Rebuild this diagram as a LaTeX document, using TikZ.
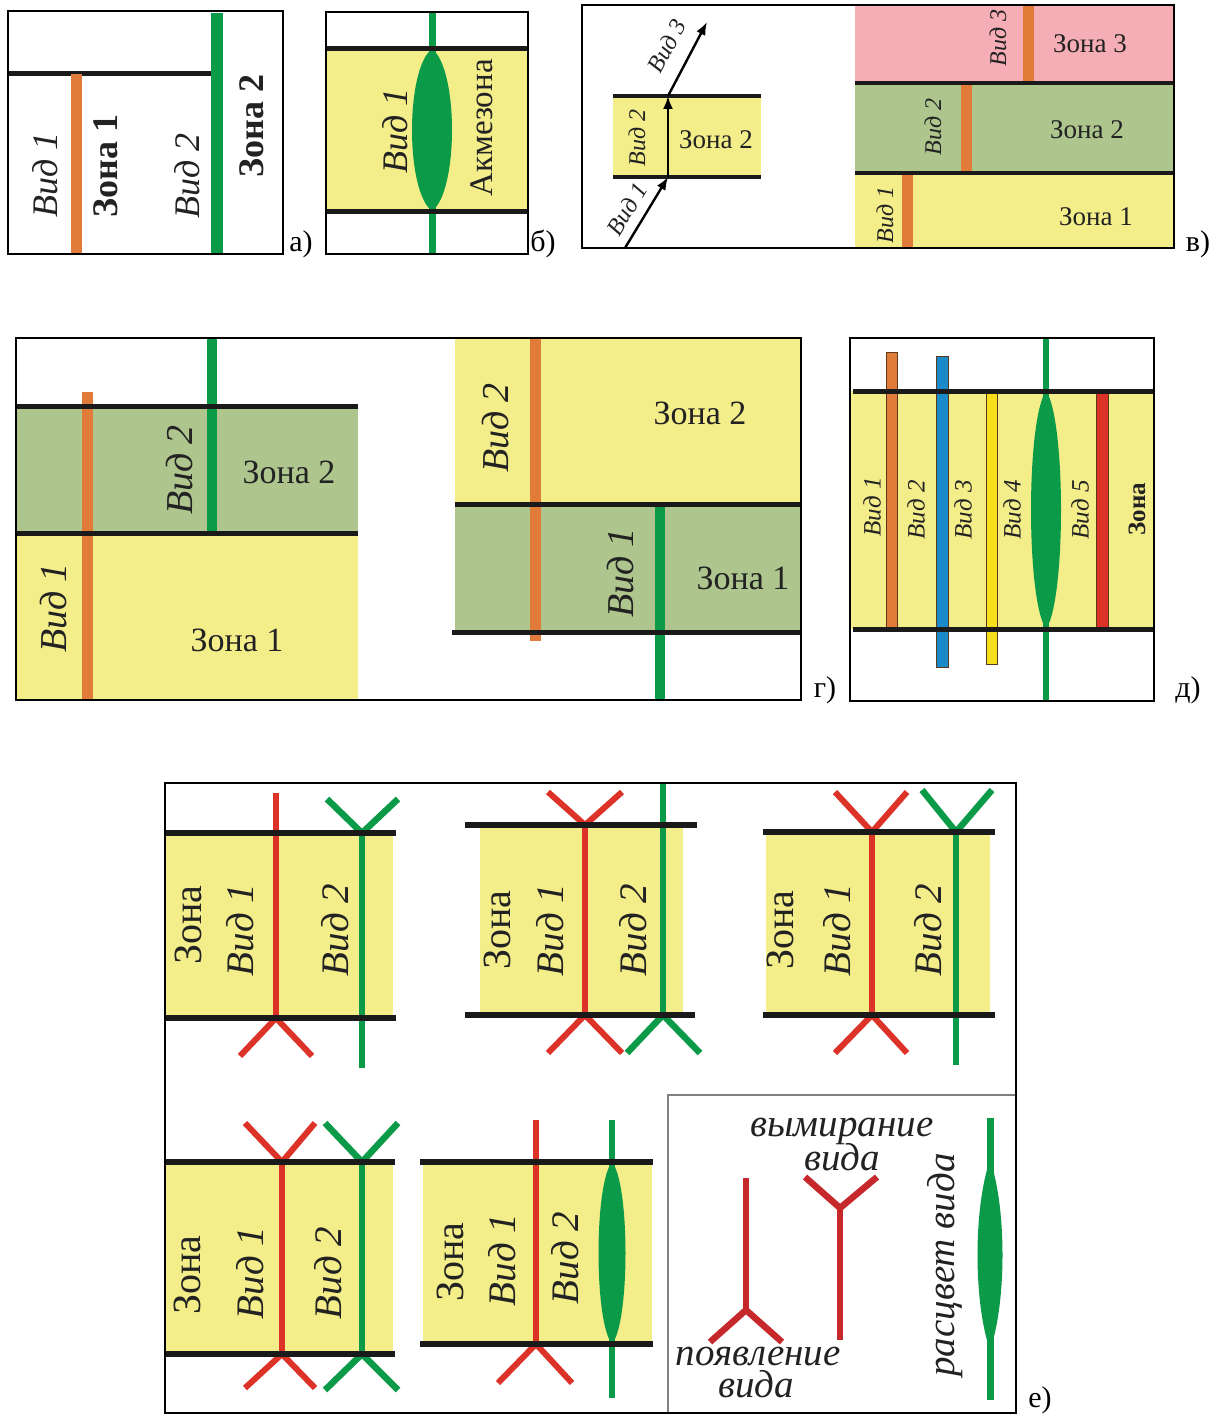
\documentclass[tikz,border=0pt]{standalone}
\usepackage{fontspec}
\setmainfont{LiberationSerif}[Extension=.ttf,UprightFont=*-Regular,BoldFont=*-Bold,ItalicFont=*-Italic,BoldItalicFont=*-BoldItalic]
\usetikzlibrary{arrows.meta}
\definecolor{zy}{HTML}{F3ED8A}
\definecolor{zg}{HTML}{AEC58E}
\definecolor{zp}{HTML}{F6AEB6}
\definecolor{cor}{HTML}{E07B39}
\definecolor{cgr}{HTML}{0B9B48}
\definecolor{cred}{HTML}{DD3228}
\definecolor{lred}{HTML}{C7282C}
\definecolor{cblue}{HTML}{1B8AC8}
\definecolor{cgold}{HTML}{F7DF1E}
\definecolor{lk}{HTML}{1A1A1A}
\definecolor{brn}{HTML}{5A3A1A}
\definecolor{txc}{HTML}{222222}
\definecolor{lgray}{HTML}{808080}
\newcommand{\mylens}[5]{%
 \fill[cgr] (#1,#2) .. controls ({#1+1.333*#4},{#2+#5*(#3-#2)}) and ({#1+1.333*#4},{#3-#5*(#3-#2)}) .. (#1,#3) .. controls ({#1-1.333*#4},{#3-#5*(#3-#2)}) and ({#1-1.333*#4},{#2+#5*(#3-#2)}) .. cycle;}
\begin{document}
\begin{tikzpicture}[x=1pt,y=-1pt,
  frm/.style={draw=black,line width=1.6pt},
  bnd/.style={draw=lk,line width=5pt},
  bnde/.style={draw=lk,line width=6pt},
  thinb/.style={draw=lk,line width=4pt},
  outl/.style={draw=brn,line width=0.8pt},
  rl/.style={draw=cred,line width=6pt},
  gl/.style={draw=cgr,line width=6.5pt},
  lrl/.style={draw=lred,line width=6.5pt},
  arrw/.style={draw=black,line width=2.4pt,-{Latex[length=13pt,width=10pt]}},
  tx/.style={inner sep=0pt,text=txc},
  vA/.style={tx,font=\fontsize{36}{40}\selectfont\itshape},
  zA/.style={tx,font=\fontsize{36}{40}\selectfont\bfseries},
  zAk/.style={tx,font=\fontsize{33}{36}\selectfont},
  vB/.style={tx,font=\fontsize{24}{28}\selectfont\itshape},
  zB/.style={tx,font=\fontsize{27}{30}\selectfont},
  vC/.style={tx,font=\fontsize{38}{42}\selectfont\itshape},
  zC/.style={tx,font=\fontsize{34}{38}\selectfont},
  vD/.style={tx,font=\fontsize{25}{28}\selectfont\itshape},
  zD/.style={tx,font=\fontsize{25}{28}\selectfont\bfseries},
  vE/.style={tx,font=\fontsize{39}{42}\selectfont\itshape},
  zE/.style={tx,font=\fontsize{40}{44}\selectfont},
  leg/.style={tx,font=\fontsize{39}{42}\selectfont\itshape,text=txc},
  plab/.style={inner sep=0pt,text=black,font=\fontsize{30}{34}\selectfont}
]
\useasboundingbox (0,0) rectangle (1218,1418);
\fill[white] (0,0) rectangle (1218,1418);

% ---------- panel a
\draw[bnd] (8,74) -- (213,74);
\fill[cor] (71,74) rectangle (82,253);
\fill[cgr] (211,13) rectangle (223,253);
\node[vA,rotate=90] (a1) at (45,175) {Вид 1};
\node[zA,rotate=90] (a2) at (106,166) {Зона 1};
\node[vA,rotate=90] (a3) at (187,176) {Вид 2};
\node[zA,rotate=90] (a4) at (252,126) {Зона 2};
\draw[frm] (8,11) rectangle (283,254);
\node[plab] (la) at (301,244) {а)};

% ---------- panel b
\fill[zy] (326,49) rectangle (528,211);
\draw[gl,line width=7pt] (432,12) -- (432,254);
\mylens{432}{49}{211}{20}{0.12}
\draw[bnd] (326,49) -- (528,49);
\draw[bnd] (326,211) -- (528,211);
\node[vA,rotate=90] (b1) at (395,131) {Вид 1};
\node[zAk,rotate=90] (b2) at (482,128) {Акмезона};
\draw[frm] (326,12) rectangle (528,254);
\node[plab] (lb) at (543,244) {б)};

% ---------- panel v
\fill[zy] (613,96) rectangle (761,177);
\draw[thinb] (613,96) -- (761,96);
\draw[thinb] (613,177) -- (761,177);
\coordinate (v0) at (625,248);
\coordinate (v1) at (668,177);
\coordinate (v2) at (668,96);
\coordinate (v3) at (707,22);
\draw[arrw] (v0) -- (v1);
\draw[arrw] (v1) -- (v2);
\draw[arrw] (v2) -- (v3);
\node[vB,rotate=90] (c1) at (637,138) {Вид 2};
\node[zB] (c2) at (716,140) {Зона 2};
\node[vB,rotate=59] (c3) at (627,209) {Вид 1};
\node[vB,rotate=62] (c4) at (667,46) {Вид 3};
\fill[zp] (855,5) rectangle (1174,83);
\fill[zg] (855,83) rectangle (1174,173);
\fill[zy] (855,173) rectangle (1174,248);
\fill[cor] (1023,5) rectangle (1034,83);
\fill[cor] (961,83) rectangle (972,173);
\fill[cor] (902,173) rectangle (913,248);
\draw[thinb] (855,83) -- (1174,83);
\draw[thinb] (855,173) -- (1174,173);
\node[vB,rotate=90] (c5) at (998,38) {Вид 3};
\node[zB] (c6) at (1090,44) {Зона 3};
\node[vB,rotate=90] (c7) at (933,127) {Вид 2};
\node[zB] (c8) at (1087,130) {Зона 2};
\node[vB,rotate=90] (c9) at (885,215) {Вид 1};
\node[zB] (c10) at (1096,217) {Зона 1};
\draw[frm] (582,5) rectangle (1174,248);
\node[plab] (lc) at (1198,244) {в)};

% ---------- panel g
\fill[zg] (16,406) rectangle (358,533);
\fill[zy] (16,533) rectangle (358,700);
\fill[cor] (82,392) rectangle (93,700);
\fill[cgr] (207,338) rectangle (217,533);
\draw[bnd] (16,406) -- (358,406);
\draw[bnd] (16,533) -- (358,533);
\node[vC,rotate=90] (d1) at (180,470) {Вид 2};
\node[zC] (d2) at (289,472) {Зона 2};
\node[vC,rotate=90] (d3) at (54,608) {Вид 1};
\node[zC] (d4) at (237,640) {Зона 1};
\fill[zy] (455,338) rectangle (801,504);
\fill[zg] (455,504) rectangle (801,632);
\fill[cor] (530,338) rectangle (541,641);
\fill[cgr] (655,504) rectangle (665,700);
\draw[bnd] (455,504) -- (801,504);
\draw[bnd] (452,632) -- (801,632);
\node[vC,rotate=90] (d5) at (496,428) {Вид 2};
\node[zC] (d6) at (700,413) {Зона 2};
\node[vC,rotate=90] (d7) at (621,573) {Вид 1};
\node[zC] (d8) at (743,578) {Зона 1};
\draw[frm] (16,338) rectangle (801,700);
\node[plab] (ld) at (825,690) {г)};

% ---------- panel d
\fill[zy] (850,391) rectangle (1154,629);
\filldraw[fill=cor,outl] (886,352) rectangle (897,629);
\filldraw[fill=cblue,outl] (936,356) rectangle (948,667);
\filldraw[fill=cgold,outl] (986,391) rectangle (997,664);
\filldraw[fill=cred,outl] (1096,391) rectangle (1108,629);
\draw[gl] (1046,338) -- (1046,701);
\mylens{1046}{391}{629}{15}{0.12}
\draw[bnd] (853,391) -- (1153,391);
\draw[bnd] (853,629) -- (1153,629);
\node[vD,rotate=90] (e1) at (872,507) {Вид 1};
\node[vD,rotate=90] (e2) at (916,510) {Вид 2};
\node[vD,rotate=90] (e3) at (963,510) {Вид 3};
\node[vD,rotate=90] (e4) at (1012,510) {Вид 4};
\node[vD,rotate=90] (e5) at (1080,510) {Вид 5};
\node[zD,rotate=90] (e6) at (1137,509) {Зона};
\draw[frm] (850,338) rectangle (1154,701);
\node[plab] (le) at (1188,690) {д)};

% ---------- panel e
% sub 1
\fill[zy] (166,833) rectangle (393,1018);
\draw[rl] (276,793) -- (276,1018);
\draw[rl] (240,1056) -- (276,1018) -- (312,1056);
\draw[gl] (362,833) -- (362,1068);
\draw[gl] (327,799) -- (362,833) -- (398,799);
\draw[bnde] (165,833) -- (396,833);
\draw[bnde] (165,1018) -- (396,1018);
\node[zE,rotate=90] (f1) at (188,925) {Зона};
\node[vE,rotate=90] (f2) at (240,930) {Вид 1};
\node[vE,rotate=90] (f3) at (335,930) {Вид 2};
% sub 2
\fill[zy] (480,825) rectangle (683,1015);
\draw[rl] (585,825) -- (585,1015);
\draw[rl] (548,792) -- (585,825) -- (622,792);
\draw[rl] (548,1053) -- (585,1015) -- (622,1053);
\draw[gl] (663,783) -- (663,1015);
\draw[gl] (627,1053) -- (663,1015) -- (700,1053);
\draw[bnde] (465,825) -- (697,825);
\draw[bnde] (465,1015) -- (695,1015);
\node[zE,rotate=90] (f4) at (497,930) {Зона};
\node[vE,rotate=90] (f5) at (550,930) {Вид 1};
\node[vE,rotate=90] (f6) at (633,930) {Вид 2};
% sub 3
\fill[zy] (766,832) rectangle (990,1015);
\draw[rl] (872,832) -- (872,1015);
\draw[rl] (835,792) -- (872,832) -- (907,792);
\draw[rl] (835,1053) -- (872,1015) -- (907,1053);
\draw[gl] (956,832) -- (956,1065);
\draw[gl] (922,790) -- (956,832) -- (992,790);
\draw[bnde] (763,832) -- (995,832);
\draw[bnde] (763,1015) -- (995,1015);
\node[zE,rotate=90] (f7) at (780,930) {Зона};
\node[vE,rotate=90] (f8) at (837,930) {Вид 1};
\node[vE,rotate=90] (f9) at (928,930) {Вид 2};
% sub 4
\fill[zy] (166,1162) rectangle (393,1354);
\draw[rl] (282,1162) -- (282,1354);
\draw[rl] (245,1123) -- (282,1162) -- (315,1123);
\draw[rl] (245,1388) -- (282,1354) -- (315,1388);
\draw[gl] (362,1162) -- (362,1354);
\draw[gl] (325,1123) -- (362,1162) -- (398,1123);
\draw[gl] (325,1390) -- (362,1354) -- (398,1390);
\draw[bnde] (165,1162) -- (395,1162);
\draw[bnde] (165,1354) -- (395,1354);
\node[zE,rotate=90] (f10) at (187,1275) {Зона};
\node[vE,rotate=90] (f11) at (250,1273) {Вид 1};
\node[vE,rotate=90] (f12) at (328,1273) {Вид 2};
% sub 5
\fill[zy] (423,1162) rectangle (652,1344);
\draw[rl] (536,1120) -- (536,1344);
\draw[rl] (498,1383) -- (536,1344) -- (572,1383);
\draw[gl] (612,1120) -- (612,1398);
\mylens{612}{1162}{1344}{13.5}{0.12}
\draw[bnde] (420,1162) -- (653,1162);
\draw[bnde] (420,1344) -- (653,1344);
\node[zE,rotate=90] (f13) at (450,1262) {Зона};
\node[vE,rotate=90] (f14) at (502,1260) {Вид 1};
\node[vE,rotate=90] (f15) at (565,1258) {Вид 2};
% legend
\draw[lgray,line width=1.5pt] (668,1412) -- (668,1095) -- (1015,1095);
\draw[lrl] (746,1178) -- (746,1310);
\draw[lrl] (710,1342) -- (746,1310) -- (782,1342);
\draw[lrl] (840,1208) -- (840,1340);
\draw[lrl] (805,1177) -- (840,1208) -- (877,1177);
\draw[gl,line width=7pt] (990,1118) -- (990,1400);
\mylens{990}{1160}{1350}{12.5}{0.25}
\node[leg] (g1) at (842,1131) {вымирание};
\node[leg] (g2) at (842,1157) {вида};
\node[leg] (g3) at (758,1357) {появление};
\node[leg] (g4) at (756,1384) {вида};
\node[leg,rotate=90] (g5) at (945,1265) {расцвет вида};
\draw[frm] (165,783) rectangle (1016,1413);
\node[plab] (lf) at (1040,1400) {е)};
\end{tikzpicture}
\end{document}
